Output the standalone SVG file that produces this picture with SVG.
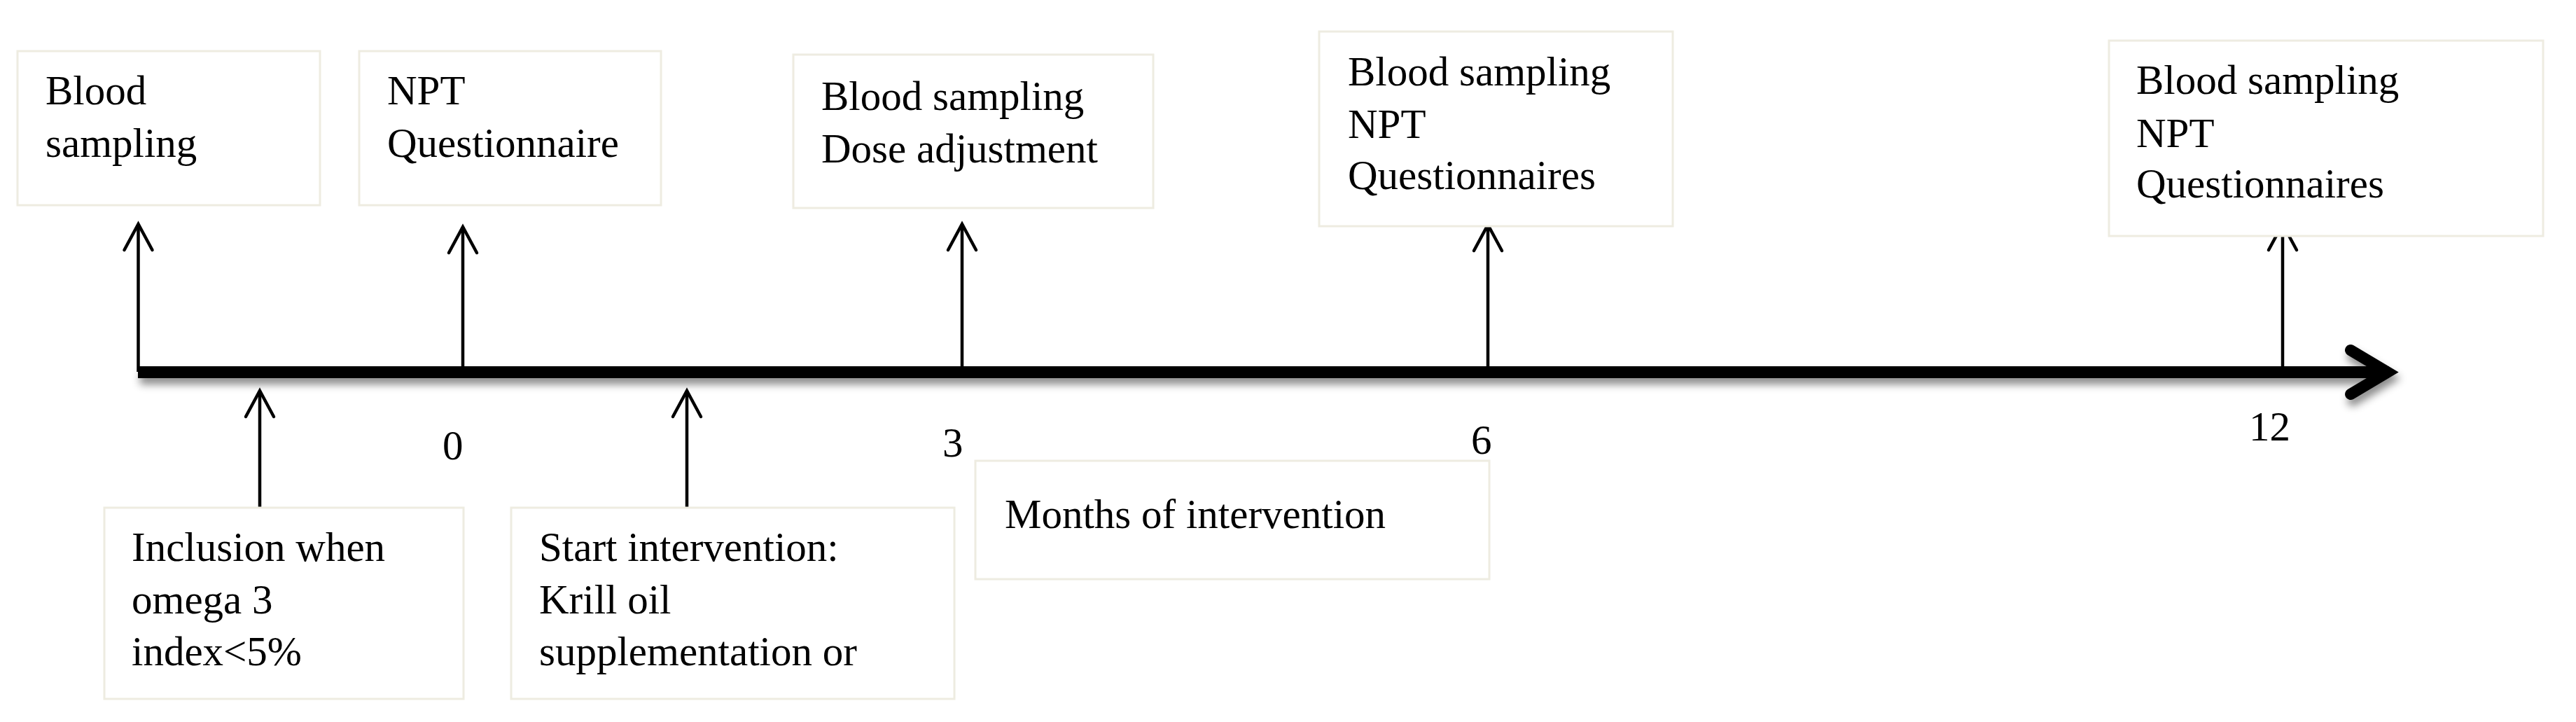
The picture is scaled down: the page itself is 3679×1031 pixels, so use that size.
<svg xmlns="http://www.w3.org/2000/svg" width="3679" height="1031" viewBox="0 0 3679 1031">
<style>
.box{fill:#ffffff;stroke:#eeece1;stroke-width:3}
.t{font-family:"Liberation Serif","Times New Roman",serif;font-size:59px;fill:#000000}
.arr{stroke:#000000;stroke-width:4.5;fill:none;marker-end:url(#ah)}
</style>
<defs>
<marker id="ah" markerUnits="userSpaceOnUse" markerWidth="60" markerHeight="60" viewBox="-50 -30 60 60" refX="0" refY="0" orient="auto" overflow="visible">
<path d="M -37 -20 L 0 0 L -37 20" fill="none" stroke="#000000" stroke-width="4.5" stroke-linecap="round" stroke-linejoin="miter"/>
</marker>
<filter id="sh" x="-5%" y="-100%" width="110%" height="300%">
<feDropShadow dx="3" dy="9" stdDeviation="6" flood-color="#000000" flood-opacity="0.45"/>
</filter>
</defs>
<rect width="3679" height="1031" fill="#ffffff"/>
<g id="axis" filter="url(#sh)">
<line x1="197" y1="531.5" x2="3412" y2="531.5" stroke="#000000" stroke-width="17"/>
<polyline points="3357,500 3410,531.5 3357,563" fill="none" stroke="#000000" stroke-width="16" stroke-linecap="round" stroke-linejoin="miter" stroke-miterlimit="10"/>
</g>
<g id="connectors">
<line class="arr" x1="197.5" y1="531" x2="197.5" y2="320"/>
<line class="arr" x1="661" y1="524" x2="661" y2="324"/>
<line class="arr" x1="1374" y1="524" x2="1374" y2="320"/>
<line class="arr" x1="2125" y1="524" x2="2125" y2="321"/>
<line class="arr" x1="3260" y1="524" x2="3260" y2="320"/>
<line class="arr" x1="371" y1="724" x2="371" y2="558"/>
<line class="arr" x1="981" y1="724" x2="981" y2="558"/>
</g>
<g id="box-blood-pre">
<rect class="box" x="25" y="73" width="432" height="220"/>
<text class="t" x="65" y="149">Blood</text>
<text class="t" x="65" y="224">sampling</text>
</g>
<g id="box-month0">
<rect class="box" x="513" y="73" width="431" height="220"/>
<text class="t" x="553" y="149">NPT</text>
<text class="t" x="553" y="224">Questionnaire</text>
</g>
<g id="box-month3">
<rect class="box" x="1133" y="78" width="514" height="219"/>
<text class="t" x="1173" y="157">Blood sampling</text>
<text class="t" x="1173" y="232">Dose adjustment</text>
</g>
<g id="box-month6">
<rect class="box" x="1884" y="45" width="505" height="278"/>
<text class="t" x="1925" y="122">Blood sampling</text>
<text class="t" x="1925" y="197">NPT</text>
<text class="t" x="1925" y="270">Questionnaires</text>
</g>
<g id="box-month12">
<rect class="box" x="3012" y="58" width="620" height="279"/>
<text class="t" x="3051" y="134">Blood sampling</text>
<text class="t" x="3051" y="210">NPT</text>
<text class="t" x="3051" y="282">Questionnaires</text>
</g>
<g id="box-inclusion">
<rect class="box" x="149" y="725" width="513" height="273"/>
<text class="t" x="188" y="801">Inclusion when</text>
<text class="t" x="188" y="876">omega 3</text>
<text class="t" x="188" y="950">index&lt;5%</text>
</g>
<g id="box-start">
<rect class="box" x="730" y="725" width="633" height="273"/>
<text class="t" x="770" y="801">Start intervention:</text>
<text class="t" x="770" y="876">Krill oil</text>
<text class="t" x="770" y="950">supplementation or</text>
</g>
<g id="box-months">
<rect class="box" x="1393" y="658" width="734" height="169"/>
<text class="t" x="1435" y="754">Months of intervention</text>
</g>
<g id="labels">
<text class="t" x="632" y="656">0</text>
<text class="t" x="1346" y="652">3</text>
<text class="t" x="2101" y="648">6</text>
<text class="t" x="3212" y="629">12</text>
</g>
</svg>
